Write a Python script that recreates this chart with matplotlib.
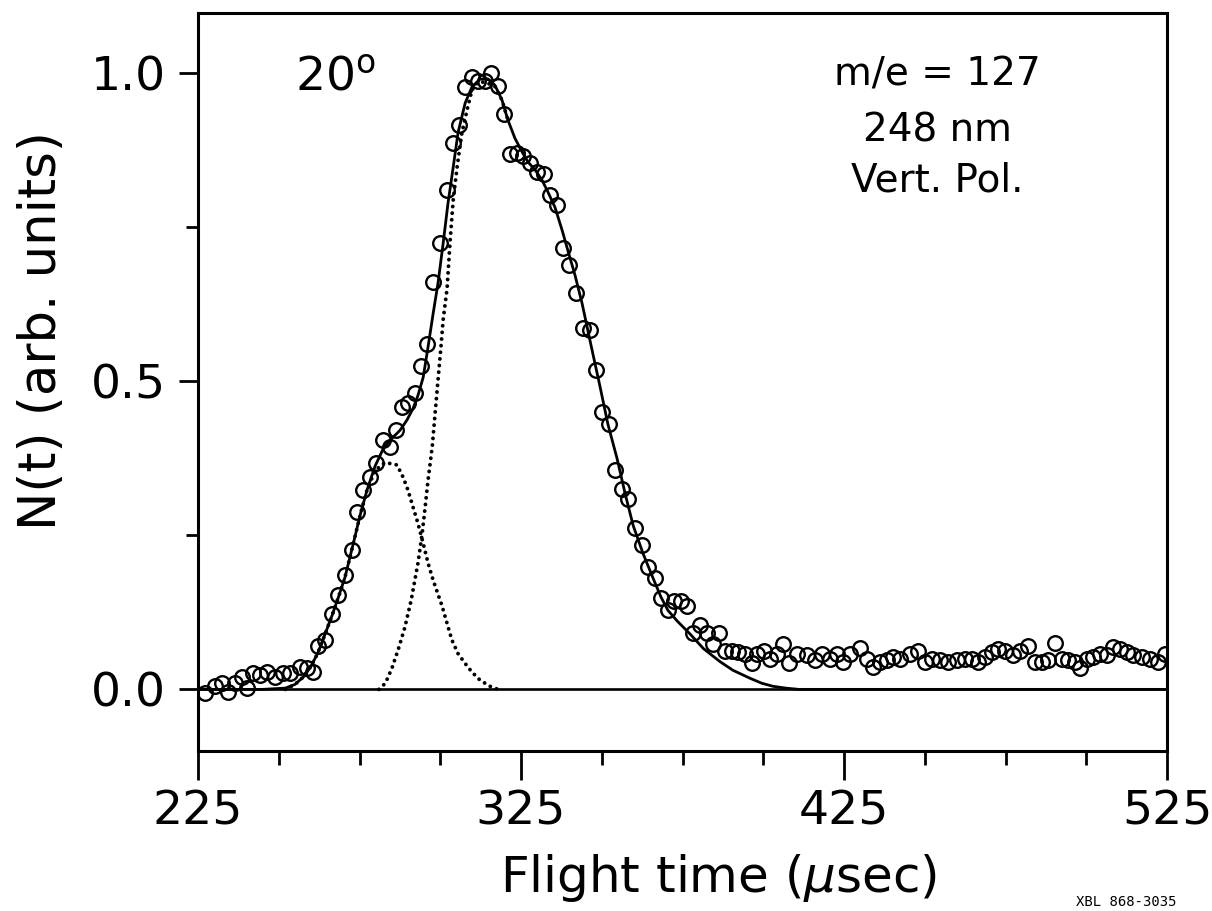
import numpy as np
import matplotlib.pyplot as plt

# --- measured TOF points: flight time (usec), N(t) normalised ---
t_data = [227.2, 230.3, 232.4, 234.3, 236.5, 238.6, 240.2, 242.0, 244.2, 246.4,
          248.8, 251.3, 253.5, 256.6, 258.7, 260.6, 262.2, 264.3, 266.5, 268.3,
          270.5, 272.7, 274.2, 276.1, 278.3, 280.1, 282.3, 284.4, 286.3, 288.2,
          290.0, 292.2, 294.0, 295.9, 297.8, 299.9, 302.1, 303.9, 305.8, 307.7,
          309.8, 311.7, 313.9, 315.7, 317.9, 319.7, 321.6, 323.8, 325.6, 327.8,
          330.0, 332.1, 334.0, 336.1, 338.0, 339.9, 342.0, 344.2, 346.4, 348.2,
          350.1, 352.2, 354.1, 356.3, 358.1, 360.3, 362.5, 364.3, 366.5, 368.3,
          370.5, 372.4, 374.5, 376.4, 378.3, 380.4, 382.6, 384.4, 386.3, 388.2,
          390.3, 392.2, 394.4, 396.5, 398.1, 400.2, 402.1, 404.3, 406.1, 408.0,
          410.5, 413.5, 416.0, 418.2, 420.7, 422.8, 424.7, 426.9, 430.0, 432.1,
          434.0, 436.2, 438.3, 440.2, 442.3, 445.4, 447.9, 450.1, 452.2, 454.7,
          457.2, 460.0, 462.5, 464.6, 466.5, 468.7, 470.8, 472.7, 474.9, 477.3,
          479.5, 482.0, 484.1, 486.3, 488.2, 490.3, 492.5, 494.4, 496.5, 498.1,
          500.2, 502.1, 504.3, 506.4, 508.3, 510.4, 512.6, 514.5, 517.3, 519.8,
          522.3, 524.5]
n_data = [-0.006, 0.006, 0.010, -0.005, 0.010, 0.020, 0.003, 0.026, 0.023, 0.028,
          0.020, 0.026, 0.026, 0.036, 0.034, 0.028, 0.071, 0.080, 0.123, 0.153,
          0.185, 0.226, 0.287, 0.323, 0.344, 0.367, 0.404, 0.393, 0.420, 0.458,
          0.464, 0.480, 0.524, 0.560, 0.660, 0.724, 0.810, 0.886, 0.915, 0.977,
          0.993, 0.987, 0.987, 1.000, 0.979, 0.933, 0.868, 0.870, 0.865, 0.854,
          0.839, 0.836, 0.802, 0.786, 0.716, 0.688, 0.643, 0.586, 0.583, 0.518,
          0.450, 0.430, 0.356, 0.325, 0.308, 0.261, 0.234, 0.198, 0.180, 0.149,
          0.128, 0.143, 0.144, 0.135, 0.091, 0.104, 0.091, 0.073, 0.091, 0.062,
          0.063, 0.060, 0.057, 0.042, 0.058, 0.063, 0.050, 0.057, 0.073, 0.042,
          0.057, 0.055, 0.047, 0.058, 0.050, 0.058, 0.044, 0.058, 0.067, 0.050,
          0.036, 0.044, 0.047, 0.052, 0.050, 0.058, 0.063, 0.044, 0.050, 0.047,
          0.044, 0.047, 0.050, 0.050, 0.044, 0.052, 0.060, 0.066, 0.063, 0.055,
          0.063, 0.071, 0.044, 0.044, 0.047, 0.075, 0.050, 0.047, 0.044, 0.034,
          0.050, 0.052, 0.058, 0.055, 0.068, 0.066, 0.060, 0.055, 0.052, 0.050,
          0.044, 0.058]

# --- total fit (solid) ---
t_fit = [225.0, 245.0, 252.0, 255.0, 258.0, 260.0, 262.0, 264.0, 266.5, 268.5,
         270.5, 273.0, 275.2, 277.3, 279.8, 282.3, 284.4, 287.5, 289.7, 291.6,
         293.1, 294.7, 296.2, 297.8, 299.3, 300.9, 302.4, 304.0, 305.5, 307.7,
         309.8, 312.3, 314.8, 316.9, 319.1, 320.9, 323.1, 325.3, 327.2, 329.3,
         331.5, 333.3, 335.5, 337.7, 339.6, 341.7, 343.9, 347.0, 349.5, 351.9,
         354.7, 357.2, 359.7, 362.8, 365.9, 368.3, 370.5, 373.5, 377.3, 381.5,
         386.6, 390.6, 395.9, 399.5, 403.0, 407.0, 411.0, 525.0]
n_fit = [0.0, 0.0, 0.002, 0.008, 0.022, 0.038, 0.058, 0.085, 0.120, 0.150,
         0.182, 0.235, 0.283, 0.323, 0.362, 0.390, 0.404, 0.420, 0.437, 0.456,
         0.477, 0.506, 0.555, 0.610, 0.659, 0.724, 0.789, 0.847, 0.903, 0.951,
         0.977, 0.990, 0.990, 0.980, 0.956, 0.924, 0.894, 0.872, 0.855, 0.843,
         0.826, 0.807, 0.782, 0.745, 0.710, 0.672, 0.626, 0.550, 0.490, 0.430,
         0.375, 0.318, 0.266, 0.220, 0.180, 0.150, 0.128, 0.110, 0.090, 0.066,
         0.045, 0.031, 0.018, 0.010, 0.005, 0.002, 0.0, 0.0]

# --- fast component (dotted) ---
t_fast = [252.0, 255.0, 258.0, 260.0, 262.0, 264.0, 266.5, 268.5, 270.5, 273.0,
          275.2, 277.3, 279.8, 282.9, 286.6, 288.5, 290.0, 291.6, 293.1, 294.7,
          296.2, 297.8, 300.5, 302.1, 303.6, 305.5, 307.7, 309.8, 312.3, 315.4,
          317.9]
n_fast = [0.0, 0.008, 0.022, 0.038, 0.058, 0.085, 0.120, 0.150, 0.182, 0.235,
          0.283, 0.323, 0.355, 0.368, 0.364, 0.344, 0.323, 0.295, 0.269, 0.237,
          0.205, 0.177, 0.136, 0.107, 0.080, 0.058, 0.042, 0.028, 0.015, 0.005,
          0.0]

# --- slow component (dotted) ---
t_slow = [281.0, 283.0, 285.0, 287.0, 289.0, 291.0, 293.1, 294.4, 295.3, 296.2,
          297.5, 298.4, 299.3, 300.2, 300.9, 302.1, 303.0, 304.0, 305.2, 306.7,
          308.3, 309.8, 311.7, 313.9, 316.9, 319.1, 320.9]
n_slow = [0.0, 0.010, 0.034, 0.065, 0.100, 0.145, 0.205, 0.253, 0.295, 0.339,
          0.393, 0.448, 0.502, 0.555, 0.600, 0.650, 0.724, 0.794, 0.847, 0.903,
          0.940, 0.972, 0.985, 0.985, 0.978, 0.956, 0.924]

x_major = [225, 325, 425, 525]
x_minor = [250, 275, 300, 350, 375, 400, 450, 475, 500]
y_major = [0.0, 0.5, 1.0]
y_major_labels = ['0.0', '0.5', '1.0']
y_minor = [0.25, 0.75]

plt.rcParams['font.family'] = 'DejaVu Sans'

fig = plt.figure(figsize=(12.12, 9.11), dpi=100)
ax = fig.add_axes([0.1634, 0.1756, 0.7995, 0.8101])

ax.axhline(0, color='black', lw=1.9, zorder=1)
ax.plot(t_fit, n_fit, color='black', lw=2.0, zorder=2)
dots = (0, (0.01, 1.7))
ax.plot(t_fast, n_fast, color='black', lw=2.8, linestyle=dots,
        dash_capstyle='round', zorder=2)
ax.plot(t_slow, n_slow, color='black', lw=2.8, linestyle=dots,
        dash_capstyle='round', zorder=2)
ax.plot(t_data, n_data, 'o', mfc='none', mec='black', ms=10.5, mew=1.7, zorder=3)

ax.set_xlim(225, 525)
ax.set_ylim(-0.1, 1.097)

ax.set_xticks(x_major)
ax.set_xticks(x_minor, minor=True)
ax.set_yticks(y_major)
ax.set_yticklabels(y_major_labels)
ax.set_yticks(y_minor, minor=True)

for s in ax.spines.values():
    s.set_linewidth(2.2)

ax.tick_params(axis='x', which='major', direction='out', length=21, width=2.0,
               labelsize=34, pad=7)
ax.tick_params(axis='x', which='minor', direction='out', length=10, width=2.0)
ax.tick_params(axis='y', which='major', direction='out', length=14, width=2.0,
               labelsize=34, pad=9)
ax.tick_params(axis='y', which='minor', direction='out', length=9, width=2.0)

ax.set_xlabel('Flight time ($\\mu$sec)', fontsize=36)
ax.xaxis.set_label_coords(0.5375, -0.137)
ax.set_ylabel('N(t) (arb. units)', fontsize=37)
ax.yaxis.set_label_coords(-0.135, 0.57)

ax.text(267.4, 0.992, '20$^\\mathregular{o}$', fontsize=34, ha='center', va='center')
ax.text(453.8, 0.997, 'm/e = 127', fontsize=28, ha='center', va='center')
ax.text(453.8, 0.907, '248 nm', fontsize=28, ha='center', va='center')
ax.text(453.8, 0.826, 'Vert. Pol.', fontsize=28, ha='center', va='center')

fig.text(0.888, 0.002, 'XBL 868-3035', fontsize=10, family='DejaVu Sans Mono',
         ha='left', va='bottom')

fig.savefig('out.png', dpi=100)
